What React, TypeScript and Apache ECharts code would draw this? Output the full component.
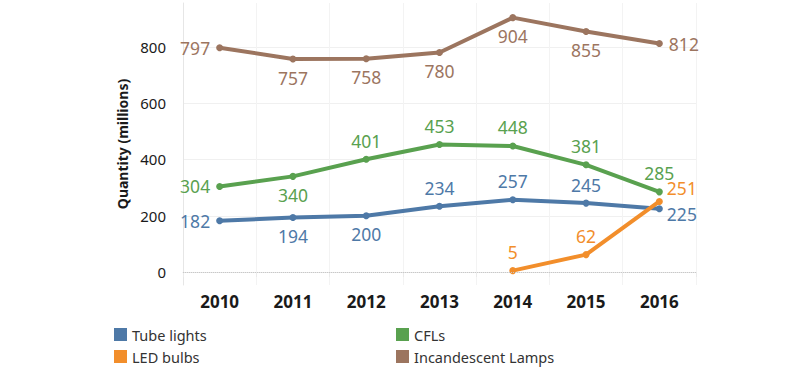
import React, { useEffect, useRef } from "react";
import * as echarts from "echarts";

const years = ["2010", "2011", "2012", "2013", "2014", "2015", "2016"];
const tubeLights = [182, 194, 200, 234, 257, 245, 225];
const ledBulbs = [null, null, null, null, 5, 62, 251];
const cfls = [304, 340, 401, 453, 448, 381, 285];
const incandescent = [797, 757, 758, 780, 904, 855, 812];
const yTicks = [0, 200, 400, 600, 800];

const tubePos = ["left", "bottom", "bottom", "top", "top", "top", "right"];
const ledPos = ["top", "top", "top", "top", "top", "top", "right"];
const cflPos = ["left", "bottom", "top", "top", "top", "top", "top"];
const incPos = ["left", "bottom", "bottom", "bottom", "bottom", "bottom", "right"];

const FONT = "'Noto Sans', sans-serif";

function mk(name: string, values: (number | null)[], pos: string[], color: string, offsets: Record<number, number[]> = {}) {
  return {
    name,
    type: "line",
    clip: false,
    symbol: "circle",
    symbolSize: 7,
    lineStyle: { width: 4, color },
    itemStyle: { color },
    data: values.map((v, i) => ({
      value: v,
      label: {
        position: pos[i],
        offset: offsets[i] || [0, 0],
      },
    })),
    label: {
      show: true,
      color,
      fontSize: 17.5,
      lineHeight: 18,
      fontFamily: FONT,
      distance: 6,
    },
    emphasis: { disabled: true },
  };
}

export default function App() {
  const ref = useRef<HTMLDivElement>(null);
  useEffect(() => {
    const chart = echarts.init(ref.current!, null, { renderer: "svg" });
    chart.setOption({
      animation: false,
      textStyle: { fontFamily: FONT },
      grid: { left: 183, right: 104, top: 3, bottom: 89 },
      xAxis: {
        type: "category",
        data: years,
        boundaryGap: true,
        axisLine: { lineStyle: { color: "#e6e6e6", width: 1 } },
        axisTick: { show: true, length: 5, lineStyle: { color: "#ebebeb" } },
        splitLine: { show: true, lineStyle: { color: "#f3f3f3", width: 1 } },
        axisLabel: { color: "#1a1a1a", fontSize: 17, fontWeight: "bold", fontFamily: FONT, margin: 8 },
      },
      yAxis: {
        type: "value",
        min: -46,
        max: 956,
        name: "Quantity (millions)",
        nameLocation: "middle",
        nameGap: 48,
        nameRotate: 90,
        nameTextStyle: { color: "#1a1a1a", fontSize: 14, fontWeight: "bold", fontFamily: FONT },
        axisLine: { show: true, lineStyle: { color: "#e6e6e6" } },
        axisTick: { show: false, customValues: [200, 400, 600, 800] },
        axisLabel: { customValues: yTicks, color: "#1a1a1a", fontSize: 15, fontFamily: FONT, margin: 17 },
        splitLine: { show: true, lineStyle: { color: "#f0f0f0", width: 1 } },
      },
      legend: [
        {
          data: ["Tube lights", "LED bulbs"],
          orient: "vertical",
          left: 109,
          top: 322,
          icon: "rect",
          itemWidth: 13,
          itemHeight: 13,
          itemGap: 7,
          textStyle: { color: "#333", fontSize: 14.5, fontFamily: FONT },
        },
        {
          data: ["CFLs", "Incandescent Lamps"],
          orient: "vertical",
          left: 391,
          top: 322,
          icon: "rect",
          itemWidth: 13,
          itemHeight: 13,
          itemGap: 7,
          textStyle: { color: "#333", fontSize: 14.5, fontFamily: FONT },
        },
      ],
      series: [
        mk("Incandescent Lamps", incandescent, incPos, "#9c755f"),
        mk("CFLs", cfls, cflPos, "#59a14f"),
        mk("Tube lights", tubeLights, tubePos, "#4e79a7", { 6: [-2, 5] }),
        mk("LED bulbs", ledBulbs, ledPos, "#f28e2b", { 6: [-2, -13] }),
        {
          type: "line",
          data: [],
          markLine: {
            silent: true,
            symbol: "none",
            label: { show: false },
            lineStyle: { color: "#c8c8c8", type: "dotted", width: 1 },
            data: [{ yAxis: 0 }],
          },
        },
      ],
    });
    return () => chart.dispose();
  }, []);
  return <div ref={ref} style={{ position: "absolute", left: 0, top: 0, width: 800, height: 374 }} />;
}
